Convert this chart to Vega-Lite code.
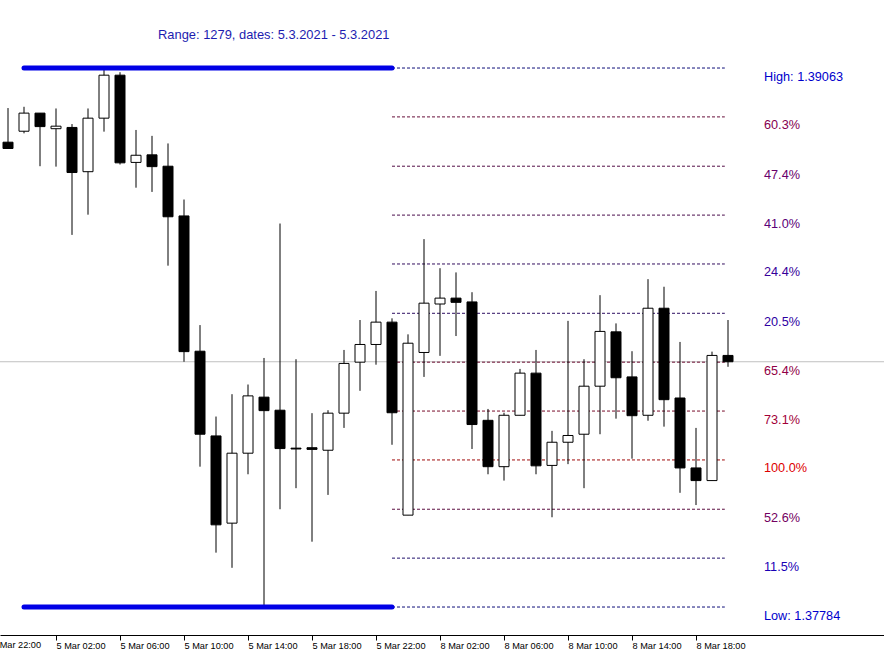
{
  "$schema": "https://vega.github.io/schema/vega-lite/v6.json",
  "width": 884,
  "height": 635,
  "padding": {"left": 0, "top": 0, "right": 0, "bottom": 20},
  "autosize": {"type": "none"},
  "background": "white",
  "config": {
    "view": {"stroke": null},
    "scale": {"continuousPadding": 0},
    "axisX": {
      "title": null, "grid": false,
      "domainColor": "black", "domainWidth": 1,
      "tickColor": "black", "tickSize": 5, "tickWidth": 1,
      "labelFont": "Liberation Sans", "labelFontSize": 9.2, "labelColor": "black",
      "labelAlign": "left", "labelBaseline": "middle", "labelPadding": 5,
      "labelFlush": false, "labelOverlap": false
    }
  },
  "datasets": {
    "candles": [
      {"i":0,"o":1.38887,"h":1.38968,"l":1.38872,"c":1.38872},
      {"i":1,"o":1.38913,"h":1.38971,"l":1.38908,"c":1.38956},
      {"i":2,"o":1.38956,"h":1.38956,"l":1.38830,"c":1.38924},
      {"i":3,"o":1.38919,"h":1.38967,"l":1.38829,"c":1.38925},
      {"i":4,"o":1.38922,"h":1.38930,"l":1.38667,"c":1.38815},
      {"i":5,"o":1.38817,"h":1.38967,"l":1.38715,"c":1.38944},
      {"i":6,"o":1.38944,"h":1.39063,"l":1.38912,"c":1.39046},
      {"i":7,"o":1.39046,"h":1.39053,"l":1.38834,"c":1.38838},
      {"i":8,"o":1.38839,"h":1.38916,"l":1.38779,"c":1.38856},
      {"i":9,"o":1.38857,"h":1.38902,"l":1.38769,"c":1.38829},
      {"i":10,"o":1.38830,"h":1.38884,"l":1.38594,"c":1.38710},
      {"i":11,"o":1.38712,"h":1.38751,"l":1.38366,"c":1.38390},
      {"i":12,"o":1.38391,"h":1.38453,"l":1.38117,"c":1.38194},
      {"i":13,"o":1.38190,"h":1.38236,"l":1.37913,"c":1.37979},
      {"i":14,"o":1.37983,"h":1.38289,"l":1.37877,"c":1.38149},
      {"i":15,"o":1.38149,"h":1.38312,"l":1.38099,"c":1.38285},
      {"i":16,"o":1.38282,"h":1.38375,"l":1.37784,"c":1.38250},
      {"i":17,"o":1.38251,"h":1.38694,"l":1.38016,"c":1.38160},
      {"i":18,"o":1.38161,"h":1.38372,"l":1.38066,"c":1.38159},
      {"i":19,"o":1.38162,"h":1.38244,"l":1.37939,"c":1.38158},
      {"i":20,"o":1.38156,"h":1.38251,"l":1.38050,"c":1.38244},
      {"i":21,"o":1.38244,"h":1.38394,"l":1.38209,"c":1.38362},
      {"i":22,"o":1.38365,"h":1.38465,"l":1.38297,"c":1.38407},
      {"i":23,"o":1.38407,"h":1.38534,"l":1.38359,"c":1.38460},
      {"i":24,"o":1.38460,"h":1.38469,"l":1.38169,"c":1.38245},
      {"i":25,"o":1.38002,"h":1.38431,"l":1.38002,"c":1.38410},
      {"i":26,"o":1.38388,"h":1.38657,"l":1.38330,"c":1.38505},
      {"i":27,"o":1.38503,"h":1.38588,"l":1.38380,"c":1.38517},
      {"i":28,"o":1.38517,"h":1.38578,"l":1.38427,"c":1.38507},
      {"i":29,"o":1.38508,"h":1.38531,"l":1.38159,"c":1.38217},
      {"i":30,"o":1.38227,"h":1.38254,"l":1.38099,"c":1.38117},
      {"i":31,"o":1.38117,"h":1.38245,"l":1.38084,"c":1.38239},
      {"i":32,"o":1.38239,"h":1.38349,"l":1.38239,"c":1.38339},
      {"i":33,"o":1.38339,"h":1.38394,"l":1.38099,"c":1.38119},
      {"i":34,"o":1.38120,"h":1.38202,"l":1.37997,"c":1.38175},
      {"i":35,"o":1.38175,"h":1.38463,"l":1.38123,"c":1.38191},
      {"i":36,"o":1.38194,"h":1.38372,"l":1.38066,"c":1.38308},
      {"i":37,"o":1.38308,"h":1.38524,"l":1.38194,"c":1.38438},
      {"i":38,"o":1.38437,"h":1.38457,"l":1.38231,"c":1.38328},
      {"i":39,"o":1.38330,"h":1.38391,"l":1.38136,"c":1.38238},
      {"i":40,"o":1.38239,"h":1.38562,"l":1.38226,"c":1.38493},
      {"i":41,"o":1.38493,"h":1.38544,"l":1.38212,"c":1.38276},
      {"i":42,"o":1.38280,"h":1.38413,"l":1.38055,"c":1.38114},
      {"i":43,"o":1.38114,"h":1.38209,"l":1.38026,"c":1.38084},
      {"i":44,"o":1.38084,"h":1.38390,"l":1.38084,"c":1.38381},
      {"i":45,"o":1.38381,"h":1.38465,"l":1.38354,"c":1.38366}
    ],
    "levels": [
      {"p":1.39063,"pct":0,"t":"High: 1.39063"},
      {"p":1.38947,"pct":60.3,"t":"60.3%"},
      {"p":1.38830,"pct":47.4,"t":"47.4%"},
      {"p":1.38714,"pct":41.0,"t":"41.0%"},
      {"p":1.38598,"pct":24.4,"t":"24.4%"},
      {"p":1.38481,"pct":20.5,"t":"20.5%"},
      {"p":1.38365,"pct":65.4,"t":"65.4%"},
      {"p":1.38249,"pct":73.1,"t":"73.1%"},
      {"p":1.38133,"pct":100,"t":"100.0%"},
      {"p":1.38016,"pct":52.6,"t":"52.6%"},
      {"p":1.37900,"pct":11.5,"t":"11.5%"},
      {"p":1.37784,"pct":0,"t":"Low: 1.37784"}
    ],
    "current": [{"p":1.38366}]
  },
  "layer": [
    {
      "data": {"name": "current"},
      "mark": {"type": "rule", "color": "#c0c0c0", "strokeWidth": 1},
      "encoding": {
        "y": {"field": "p", "type": "quantitative", "scale": {"domain": [1.377176, 1.392244], "nice": false, "zero": false, "padding": 0}, "axis": null}
      }
    },
    {
      "data": {"name": "levels"},
      "mark": {"type": "rule", "strokeWidth": 1, "strokeDash": [3, 2]},
      "encoding": {
        "x": {"datum": 24, "type": "quantitative", "scale": {"domain": [-0.5, 54.75], "nice": false, "zero": false, "padding": 0},
          "axis": {"values": [3, 7, 11, 15, 19, 23, 27, 31, 35, 39, 43], "labelExpr": "['5 Mar 02:00','5 Mar 06:00','5 Mar 10:00','5 Mar 14:00','5 Mar 18:00','5 Mar 22:00','8 Mar 02:00','8 Mar 06:00','8 Mar 10:00','8 Mar 14:00','8 Mar 18:00'][(datum.value-3)/4]", "title": null}},
        "x2": {"datum": 44.8},
        "y": {"field": "p", "type": "quantitative", "scale": {"domain": [1.377176, 1.392244], "nice": false, "zero": false, "padding": 0}, "axis": null},
        "stroke": {"field": "pct", "type": "quantitative", "scale": {"domain": [0, 100], "range": ["#10107a", "#a00c0c"], "interpolate": "rgb"}, "legend": null}
      }
    },
    {
      "data": {"name": "candles"},
      "mark": {"type": "rule", "color": "black", "strokeWidth": 1},
      "encoding": {
        "x": {"field": "i", "type": "quantitative", "scale": {"domain": [-0.5, 54.75], "nice": false, "zero": false, "padding": 0},
          "axis": {"values": [3, 7, 11, 15, 19, 23, 27, 31, 35, 39, 43], "labelExpr": "['5 Mar 02:00','5 Mar 06:00','5 Mar 10:00','5 Mar 14:00','5 Mar 18:00','5 Mar 22:00','8 Mar 02:00','8 Mar 06:00','8 Mar 10:00','8 Mar 14:00','8 Mar 18:00'][(datum.value-3)/4]", "title": null}},
        "y": {"field": "l", "type": "quantitative", "scale": {"domain": [1.377176, 1.392244], "nice": false, "zero": false, "padding": 0}, "axis": null},
        "y2": {"field": "h"}
      }
    },
    {
      "data": {"name": "candles"},
      "mark": {"type": "bar", "size": 10, "stroke": "black", "strokeWidth": 1},
      "encoding": {
        "x": {"field": "i", "type": "quantitative", "scale": {"domain": [-0.5, 54.75], "nice": false, "zero": false, "padding": 0},
          "axis": {"values": [3, 7, 11, 15, 19, 23, 27, 31, 35, 39, 43], "labelExpr": "['5 Mar 02:00','5 Mar 06:00','5 Mar 10:00','5 Mar 14:00','5 Mar 18:00','5 Mar 22:00','8 Mar 02:00','8 Mar 06:00','8 Mar 10:00','8 Mar 14:00','8 Mar 18:00'][(datum.value-3)/4]", "title": null}},
        "y": {"field": "o", "type": "quantitative", "scale": {"domain": [1.377176, 1.392244], "nice": false, "zero": false, "padding": 0}, "axis": null},
        "y2": {"field": "c"},
        "fill": {"condition": {"test": "datum.c > datum.o", "value": "white"}, "value": "black"}
      }
    },
    {
      "data": {"name": "levels"},
      "transform": [{"filter": "datum.pct == 0"}],
      "mark": {"type": "rule", "color": "#0000e6", "strokeWidth": 5, "strokeCap": "round"},
      "encoding": {
        "x": {"datum": 1, "type": "quantitative", "scale": {"domain": [-0.5, 54.75], "nice": false, "zero": false, "padding": 0},
          "axis": {"values": [3, 7, 11, 15, 19, 23, 27, 31, 35, 39, 43], "labelExpr": "['5 Mar 02:00','5 Mar 06:00','5 Mar 10:00','5 Mar 14:00','5 Mar 18:00','5 Mar 22:00','8 Mar 02:00','8 Mar 06:00','8 Mar 10:00','8 Mar 14:00','8 Mar 18:00'][(datum.value-3)/4]", "title": null}},
        "x2": {"datum": 24},
        "y": {"field": "p", "type": "quantitative", "scale": {"domain": [1.377176, 1.392244], "nice": false, "zero": false, "padding": 0}, "axis": null}
      }
    },
    {
      "data": {"name": "levels"},
      "mark": {"type": "text", "align": "left", "baseline": "middle", "dy": 8.5, "font": "Liberation Sans", "fontSize": 12.7},
      "encoding": {
        "x": {"datum": 47.25, "type": "quantitative", "scale": {"domain": [-0.5, 54.75], "nice": false, "zero": false, "padding": 0},
          "axis": {"values": [3, 7, 11, 15, 19, 23, 27, 31, 35, 39, 43], "labelExpr": "['5 Mar 02:00','5 Mar 06:00','5 Mar 10:00','5 Mar 14:00','5 Mar 18:00','5 Mar 22:00','8 Mar 02:00','8 Mar 06:00','8 Mar 10:00','8 Mar 14:00','8 Mar 18:00'][(datum.value-3)/4]", "title": null}},
        "y": {"field": "p", "type": "quantitative", "scale": {"domain": [1.377176, 1.392244], "nice": false, "zero": false, "padding": 0}, "axis": null},
        "text": {"field": "t"},
        "color": {"field": "pct", "type": "quantitative", "scale": {"domain": [0, 100], "range": ["#0000cc", "#dd0000"], "interpolate": "rgb"}, "legend": null}
      }
    },
    {
      "data": {"values": [{"t": "Range: 1279, dates: 5.3.2021 - 5.3.2021"}]},
      "mark": {"type": "text", "align": "left", "baseline": "middle", "font": "Liberation Sans", "fontSize": 12.9, "color": "#1c1cb0"},
      "encoding": {
        "x": {"datum": 9.375, "type": "quantitative", "scale": {"domain": [-0.5, 54.75], "nice": false, "zero": false, "padding": 0},
          "axis": {"values": [3, 7, 11, 15, 19, 23, 27, 31, 35, 39, 43], "labelExpr": "['5 Mar 02:00','5 Mar 06:00','5 Mar 10:00','5 Mar 14:00','5 Mar 18:00','5 Mar 22:00','8 Mar 02:00','8 Mar 06:00','8 Mar 10:00','8 Mar 14:00','8 Mar 18:00'][(datum.value-3)/4]", "title": null}},
        "y": {"datum": 1.391413, "type": "quantitative", "scale": {"domain": [1.377176, 1.392244], "nice": false, "zero": false, "padding": 0}, "axis": null},
        "text": {"field": "t"}
      }
    },
    {
      "data": {"values": [{"t": "4 Mar 22:00"}]},
      "mark": {"type": "text", "align": "left", "baseline": "middle", "font": "Liberation Sans", "fontSize": 9.2, "color": "black"},
      "encoding": {
        "x": {"datum": -1, "type": "quantitative", "scale": {"domain": [-0.5, 54.75], "nice": false, "zero": false, "padding": 0},
          "axis": {"values": [3, 7, 11, 15, 19, 23, 27, 31, 35, 39, 43], "labelExpr": "['5 Mar 02:00','5 Mar 06:00','5 Mar 10:00','5 Mar 14:00','5 Mar 18:00','5 Mar 22:00','8 Mar 02:00','8 Mar 06:00','8 Mar 10:00','8 Mar 14:00','8 Mar 18:00'][(datum.value-3)/4]", "title": null}},
        "y": {"datum": 1.376938, "type": "quantitative", "scale": {"domain": [1.377176, 1.392244], "nice": false, "zero": false, "padding": 0}, "axis": null},
        "text": {"field": "t"}
      }
    }
  ]
}
